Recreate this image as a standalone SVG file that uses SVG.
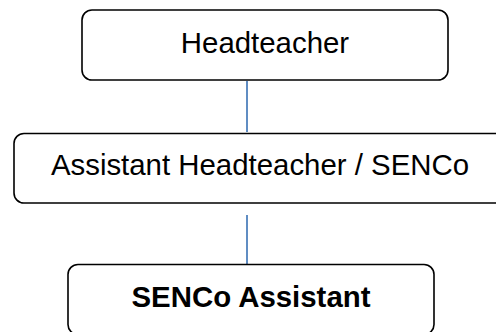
<svg xmlns="http://www.w3.org/2000/svg" width="496" height="332" viewBox="0 0 496 332">
  <style>
    .box { fill: #ffffff; stroke: #000000; stroke-width: 1.6; }
    .label { font-family: "Liberation Sans", Arial, sans-serif; font-size: 29.4px; fill: #000000; text-anchor: middle; }
    .bold { font-weight: bold; }
    .link { stroke: #4f81bd; stroke-width: 1.8; fill: none; }
  </style>
  <rect width="496" height="332" fill="#ffffff"/>
  <g id="connectors">
    <line class="link" x1="247" y1="81" x2="247" y2="132"/>
    <line class="link" x1="247" y1="215" x2="247" y2="264"/>
  </g>
  <g id="headteacher">
    <rect class="box" x="82" y="10" width="366" height="70" rx="10"/>
    <text class="label" x="265" y="52.5">Headteacher</text>
  </g>
  <g id="assistant-headteacher">
    <rect class="box" x="14" y="133.5" width="492" height="69.5" rx="10"/>
    <text class="label" x="260" y="175">Assistant Headteacher / SENCo</text>
  </g>
  <g id="senco-assistant">
    <rect class="box" x="68" y="264.5" width="366" height="70" rx="10"/>
    <text class="label bold" x="251" y="307">SENCo Assistant</text>
  </g>
</svg>
